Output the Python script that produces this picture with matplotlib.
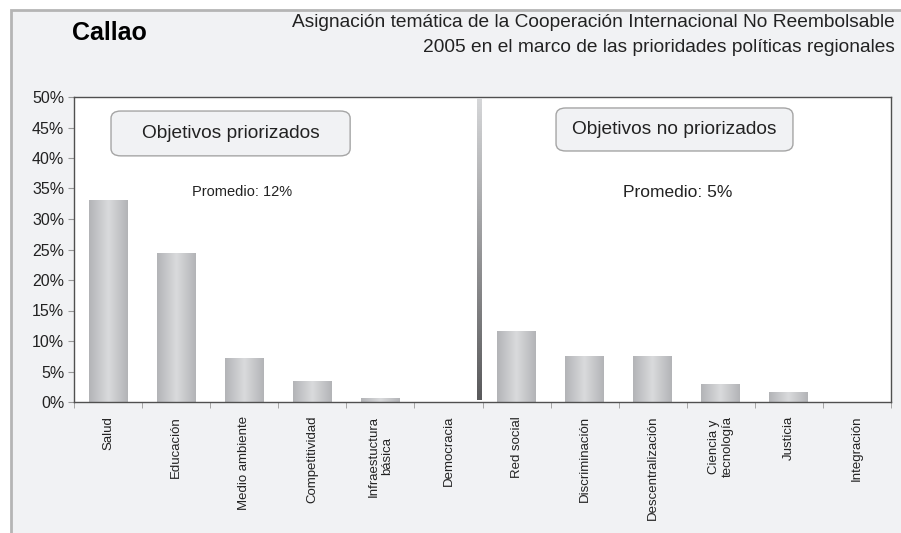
import matplotlib.pyplot as plt
import numpy as np
from matplotlib.colors import LinearSegmentedColormap
from matplotlib.patches import Rectangle, FancyBboxPatch

plt.rcParams['font.family'] = ['Liberation Sans', 'DejaVu Sans']

categorias = ['Salud', 'Educación', 'Medio ambiente', 'Competitividad',
              'Infraestuctura\nbásica', 'Democracia', 'Red social', 'Discriminación',
              'Descentralización', 'Ciencia y\ntecnología', 'Justicia', 'Integración']
valores = [33.0, 24.4, 7.2, 3.3, 0.5, 0.0, 11.6, 7.5, 7.5, 2.8, 1.5, 0.0]
y_ticks = [0, 5, 10, 15, 20, 25, 30, 35, 40, 45, 50]
n_priorizados = 6
promedio_priorizados = 12
promedio_no_priorizados = 5

BG = '#f1f2f4'
W, H = 901, 533

fig = plt.figure(figsize=(W / 100, H / 100), dpi=100)
fig.patch.set_facecolor('white')

# outer panel with gray frame on top/left
fig.patches.append(Rectangle((11 / W, -0.1), 1.2, (H - 10) / H + 0.1, transform=fig.transFigure,
                             facecolor=BG, edgecolor='#b5b5b5', lw=2, zorder=-5))

ax = fig.add_axes([74 / W, (H - 402) / H, (891 - 74) / W, (402 - 97) / H])
ax.set_facecolor('white')

x = np.arange(len(categorias))
bar_w = 0.57
bar_cmap = LinearSegmentedColormap.from_list('bar', ['#d9dadc', '#b3b4b7'])
grad = np.abs(np.linspace(-1, 1, 64)).reshape(1, -1)
for xi, v in zip(x, valores):
    if v <= 0:
        continue
    ax.imshow(grad, extent=(xi - bar_w / 2, xi + bar_w / 2, 0, v), aspect='auto',
              cmap=bar_cmap, zorder=2, interpolation='bicubic')

# vertical divider: light at top, dark at bottom
div_x = n_priorizados - 0.55
div_cmap = LinearSegmentedColormap.from_list('div', ['#5a5a5c', '#d5d6d8'])
vgrad = np.linspace(1, 0, 128).reshape(-1, 1)
ax.imshow(vgrad, extent=(div_x - 0.035, div_x + 0.035, 0.3, 49.8), aspect='auto',
          cmap=div_cmap, zorder=3, origin='upper')

ax.set_xlim(-0.5, len(categorias) - 0.5)
ax.set_ylim(0, 50)

ax.set_yticks(y_ticks)
ax.set_yticklabels([f'{t}%' for t in y_ticks], fontsize=11.5, color='#222222')
ax.set_xticks(x)
ax.set_xticklabels(categorias, rotation=90, fontsize=9.5, va='top', ha='center',
                   multialignment='center', color='#222222')
ax.tick_params(axis='x', which='major', length=0, pad=10)
ax.set_xticks(np.arange(-0.5, len(categorias), 1), minor=True)
ax.tick_params(axis='x', which='minor', length=4, color='#999999')
ax.tick_params(axis='y', length=4, color='#999999', pad=3)

for s in ax.spines.values():
    s.set_color('#505050')
    s.set_linewidth(1)

# labelled boxes (axes fraction)
for (x0, y0, w, h), label in [((0.0453, 0.807, 0.2927, 0.147), 'Objetivos priorizados'),
                              ((0.590, 0.823, 0.290, 0.141), 'Objetivos no priorizados')]:
    ax.add_patch(FancyBboxPatch((x0, y0), w, h, transform=ax.transAxes,
                                boxstyle='round,pad=0,rounding_size=0.012',
                                facecolor=BG, edgecolor='#a5a5a5', lw=1, zorder=4,
                                mutation_aspect=2.0))
    ax.text(x0 + w / 2, y0 + h / 2, label, transform=ax.transAxes, ha='center', va='center',
            fontsize=13.8, color='#222222', zorder=5)

ax.text(1.97, 34.4, f'Promedio: {promedio_priorizados}%', ha='center', va='center',
        fontsize=10.5, color='#222222')
ax.text(8.36, 34.4, f'Promedio: {promedio_no_priorizados}%', ha='center', va='center',
        fontsize=12.5, color='#222222')

fig.text(72 / W, 1 - 33 / H, 'Callao', fontsize=18, fontweight='bold', ha='left', va='center')
fig.text(895 / W, 1 - 22 / H, 'Asignación temática de la Cooperación Internacional No Reembolsable',
         fontsize=13.8, ha='right', va='center', color='#222222')
fig.text(895 / W, 1 - 47 / H, '2005 en el marco de las prioridades políticas regionales',
         fontsize=13.8, ha='right', va='center', color='#222222')

fig.savefig('out.png', dpi=100, facecolor=fig.get_facecolor())
